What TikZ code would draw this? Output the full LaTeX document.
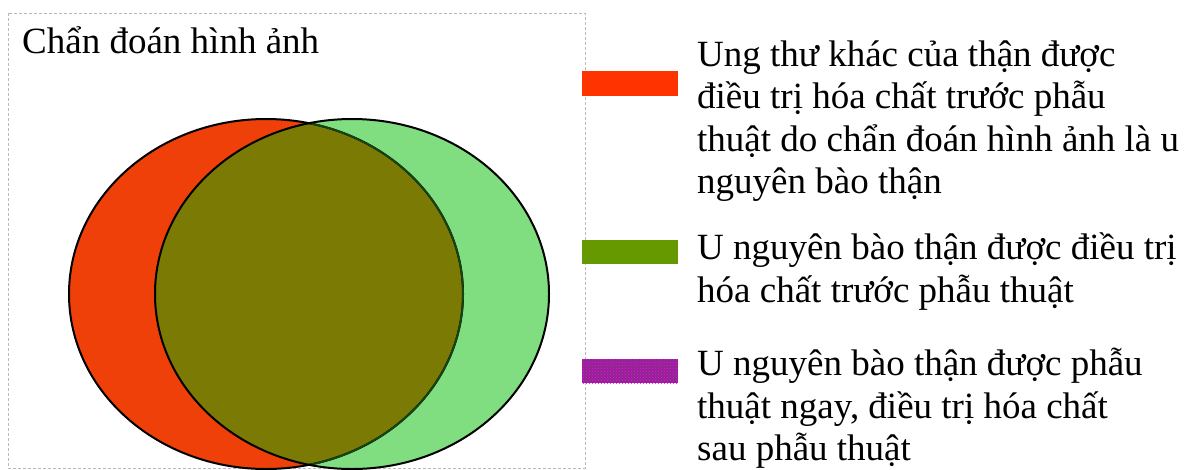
\documentclass[tikz,border=0pt]{standalone}
\usepackage{fontspec}
\setmainfont{Liberation Serif}
\usetikzlibrary{patterns}
\definecolor{redfill}{RGB}{240,64,10}
\definecolor{olivefill}{RGB}{122,122,4}
\definecolor{lightgreen}{RGB}{128,222,128}
\definecolor{arcgreen}{RGB}{20,70,20}
\definecolor{legred}{RGB}{255,51,0}
\definecolor{leggreen}{RGB}{102,153,0}
\definecolor{legpurple}{RGB}{140,40,140}
\definecolor{boxgray}{RGB}{185,185,185}
\tikzset{
  txt/.style={anchor=base west, inner sep=0pt, font=\fontsize{37}{42}\selectfont},
  outline/.style={draw=black, line width=2pt}
}
\begin{document}
\begin{tikzpicture}[x=1pt,y=-1pt]
\useasboundingbox (0,0) rectangle (1190,469);
\clip (0,0) rectangle (1190,469);
\fill[white] (0,0) rectangle (1190,469);

% frame of the chart area
\draw[boxgray, dash pattern=on 3pt off 2pt, line width=0.8pt] (8,13) rectangle (585,468);

% title
\node[txt] (title) at (22,53) {Chẩn đoán hình ảnh};

% Venn diagram
\def\leftell{(266,294) ellipse [x radius=197, y radius=175]}
\def\rightell{(352,294) ellipse [x radius=197, y radius=175]}
\fill[lightgreen] \rightell;
\fill[redfill] \leftell;
\begin{scope}
  \clip \leftell;
  \fill[olivefill] \rightell;
\end{scope}
\draw[outline] \leftell;
\begin{scope}
  \clip \rightell;
  \draw[arcgreen, line width=1.8pt] \leftell;
\end{scope}
\draw[outline] \rightell;

% legend swatches
\fill[legred] (582,71) rectangle (678,96);
\fill[leggreen] (582,240) rectangle (678,264);
\fill[legpurple] (582,359) rectangle (678,383);
\fill[pattern=crosshatch dots, pattern color=magenta] (582,359) rectangle (678,383);

% legend texts
\node[txt] (a1) at (697,66)  {Ung thư khác của thận được};
\node[txt] (a2) at (697,108) {điều trị hóa chất trước phẫu};
\node[txt] (a3) at (697,151) {thuật do chẩn đoán hình ảnh là u};
\node[txt] (a4) at (697,193) {nguyên bào thận};
\node[txt] (b1) at (697,259) {U nguyên bào thận được điều trị};
\node[txt] (b2) at (697,302) {hóa chất trước phẫu thuật};
\node[txt] (c1) at (697,375) {U nguyên bào thận được phẫu};
\node[txt] (c2) at (697,418) {thuật ngay, điều trị hóa chất};
\node[txt] (c3) at (697,460) {sau phẫu thuật};
\end{tikzpicture}
\end{document}
